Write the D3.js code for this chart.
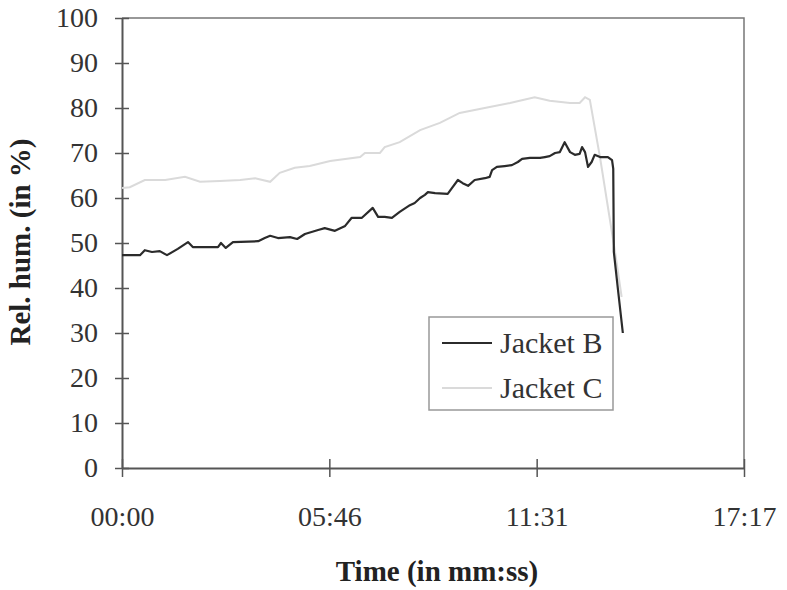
<!DOCTYPE html>
<html>
<head>
<meta charset="utf-8">
<script src="https://cdn.jsdelivr.net/npm/d3@7"></script>
<style>
  body { margin: 0; background: #fff; }
  svg { font-family: "Liberation Serif", "Times New Roman", serif; }
</style>
</head>
<body>
<svg id="chart" width="787" height="590"></svg>
<script>
// time in seconds, relative humidity in %
var timeB = [0, 30, 38, 50, 63, 75, 93, 110, 118, 147, 160, 165, 173, 185, 227, 238, 247, 260, 280, 292,
  305, 327, 338, 355, 372, 383, 400, 418, 427, 438, 450, 463, 480, 488, 497, 505, 510, 522, 543, 550,
  560, 568, 577, 588, 605, 613, 617, 625, 638, 650, 660, 667, 680, 697, 705, 713, 722, 730, 738, 747,
  755, 763, 767, 772, 777, 783, 788, 797, 810, 817, 819, 820, 827, 835];
var humB = [47.3, 47.3, 48.4, 48.0, 48.2, 47.3, 48.7, 50.2, 49.1, 49.1, 49.1, 50.0, 48.9, 50.2, 50.4, 51.1, 51.6, 51.1, 51.3, 50.9,
  52.0, 52.9, 53.3, 52.7, 53.8, 55.6, 55.6, 57.8, 55.8, 55.8, 55.6, 56.9, 58.4, 58.9, 60.0, 60.7, 61.3, 61.1, 60.9, 62.2,
  64.0, 63.3, 62.7, 64.0, 64.4, 64.7, 66.2, 66.9, 67.1, 67.3, 68.0, 68.7, 68.9, 68.9, 69.1, 69.3, 70.0, 70.2, 72.4, 70.2,
  69.6, 69.8, 71.3, 70.2, 66.9, 68.0, 69.6, 69.1, 69.1, 68.4, 66.5, 48.0, 39.5, 30.0];

var timeC = [0, 13, 38, 72, 105, 130, 163, 197, 222, 247, 263, 288, 313, 347, 397, 405, 430, 438, 463, 497,
  530, 563, 613, 647, 663, 688, 713, 747, 763, 772, 780, 797, 822, 833];
var humC = [62.2, 62.4, 64.0, 64.0, 64.7, 63.6, 63.8, 64.0, 64.4, 63.6, 65.6, 66.7, 67.1, 68.2, 69.1, 70.0, 70.0, 71.3, 72.4, 75.1,
  76.7, 78.9, 80.2, 81.1, 81.6, 82.4, 81.6, 81.1, 81.1, 82.4, 81.8, 69.0, 48.0, 38.0];

var xTicks = [0, 1037 / 3, 2 * 1037 / 3, 1037];
var xTickLabels = ['00:00', '05:46', '11:31', '17:17'];
var yTicks = [0, 10, 20, 30, 40, 50, 60, 70, 80, 90, 100];
var seriesNames = ['Jacket B', 'Jacket C'];
var seriesColors = ['#2b2b2b', '#dadada'];

var margin = { top: 18, left: 122, right: 43, bottom: 122 };
var svg = d3.select('#chart');
var width = +svg.attr('width') - margin.left - margin.right;
var height = +svg.attr('height') - margin.top - margin.bottom;

var g = svg.append('g')
  .attr('transform', 'translate(' + [margin.left, margin.top] + ')');

var xScale = d3.scaleLinear().domain([0, 1037]).range([0, width]);
var yScale = d3.scaleLinear().domain([0, 100]).range([height, 0]);

// frame (top and right)
g.append('path')
  .attr('d', 'M0,0H' + width + 'V' + height)
  .attr('fill', 'none')
  .attr('stroke', '#777')
  .attr('stroke-width', 1.5);

// axes
var xAxis = g.append('g')
  .attr('transform', 'translate(0,' + height + ')')
  .call(d3.axisBottom(xScale).tickValues(xTicks)
    .tickFormat(function(d, i) { return xTickLabels[i]; })
    .tickSizeInner(9).tickSizeOuter(0).tickPadding(29));
xAxis.selectAll('.tick line').attr('y1', -9);

var yAxis = g.append('g')
  .call(d3.axisLeft(yScale).tickValues(yTicks)
    .tickSizeInner(7).tickSizeOuter(0).tickPadding(17));
yAxis.selectAll('.tick line').attr('x1', 7).attr('x2', -7);

svg.selectAll('.domain').attr('stroke', '#555').attr('stroke-width', 2);
svg.selectAll('.tick line').attr('stroke', '#555').attr('stroke-width', 1.5);
svg.selectAll('.tick text')
  .attr('font-family', '"Liberation Serif", serif')
  .attr('font-size', 28)
  .attr('fill', '#333');

// lines
var line = d3.line()
  .x(function(d) { return xScale(d[0]); })
  .y(function(d) { return yScale(d[1]); });

g.append('path')
  .datum(d3.zip(timeC, humC))
  .attr('d', line)
  .attr('fill', 'none')
  .attr('stroke', seriesColors[1])
  .attr('stroke-width', 2);

g.append('path')
  .datum(d3.zip(timeB, humB))
  .attr('d', line)
  .attr('fill', 'none')
  .attr('stroke', seriesColors[0])
  .attr('stroke-width', 2.2)
  .attr('stroke-linejoin', 'round');

// legend
var legend = svg.append('g').attr('transform', 'translate(429,317)');
legend.append('rect')
  .attr('width', 184).attr('height', 93)
  .attr('fill', '#fff')
  .attr('stroke', '#999')
  .attr('stroke-width', 1.5);
seriesNames.forEach(function(name, i) {
  var row = legend.append('g').attr('transform', 'translate(0,' + (26 + i * 45) + ')');
  row.append('line')
    .attr('x1', 13).attr('x2', 63)
    .attr('stroke', seriesColors[i])
    .attr('stroke-width', 2);
  row.append('text')
    .attr('x', 71).attr('y', 10)
    .attr('font-size', 30)
    .attr('fill', '#333')
    .text(name);
});

// axis titles
svg.append('text')
  .attr('x', 437).attr('y', 581)
  .attr('text-anchor', 'middle')
  .attr('font-size', 29)
  .attr('font-weight', 'bold')
  .attr('fill', '#222')
  .text('Time (in mm:ss)');

svg.append('text')
  .attr('transform', 'translate(30,242) rotate(-90)')
  .attr('text-anchor', 'middle')
  .attr('font-size', 29)
  .attr('font-weight', 'bold')
  .attr('fill', '#222')
  .text('Rel. hum. (in %)');
</script>
</body>
</html>
